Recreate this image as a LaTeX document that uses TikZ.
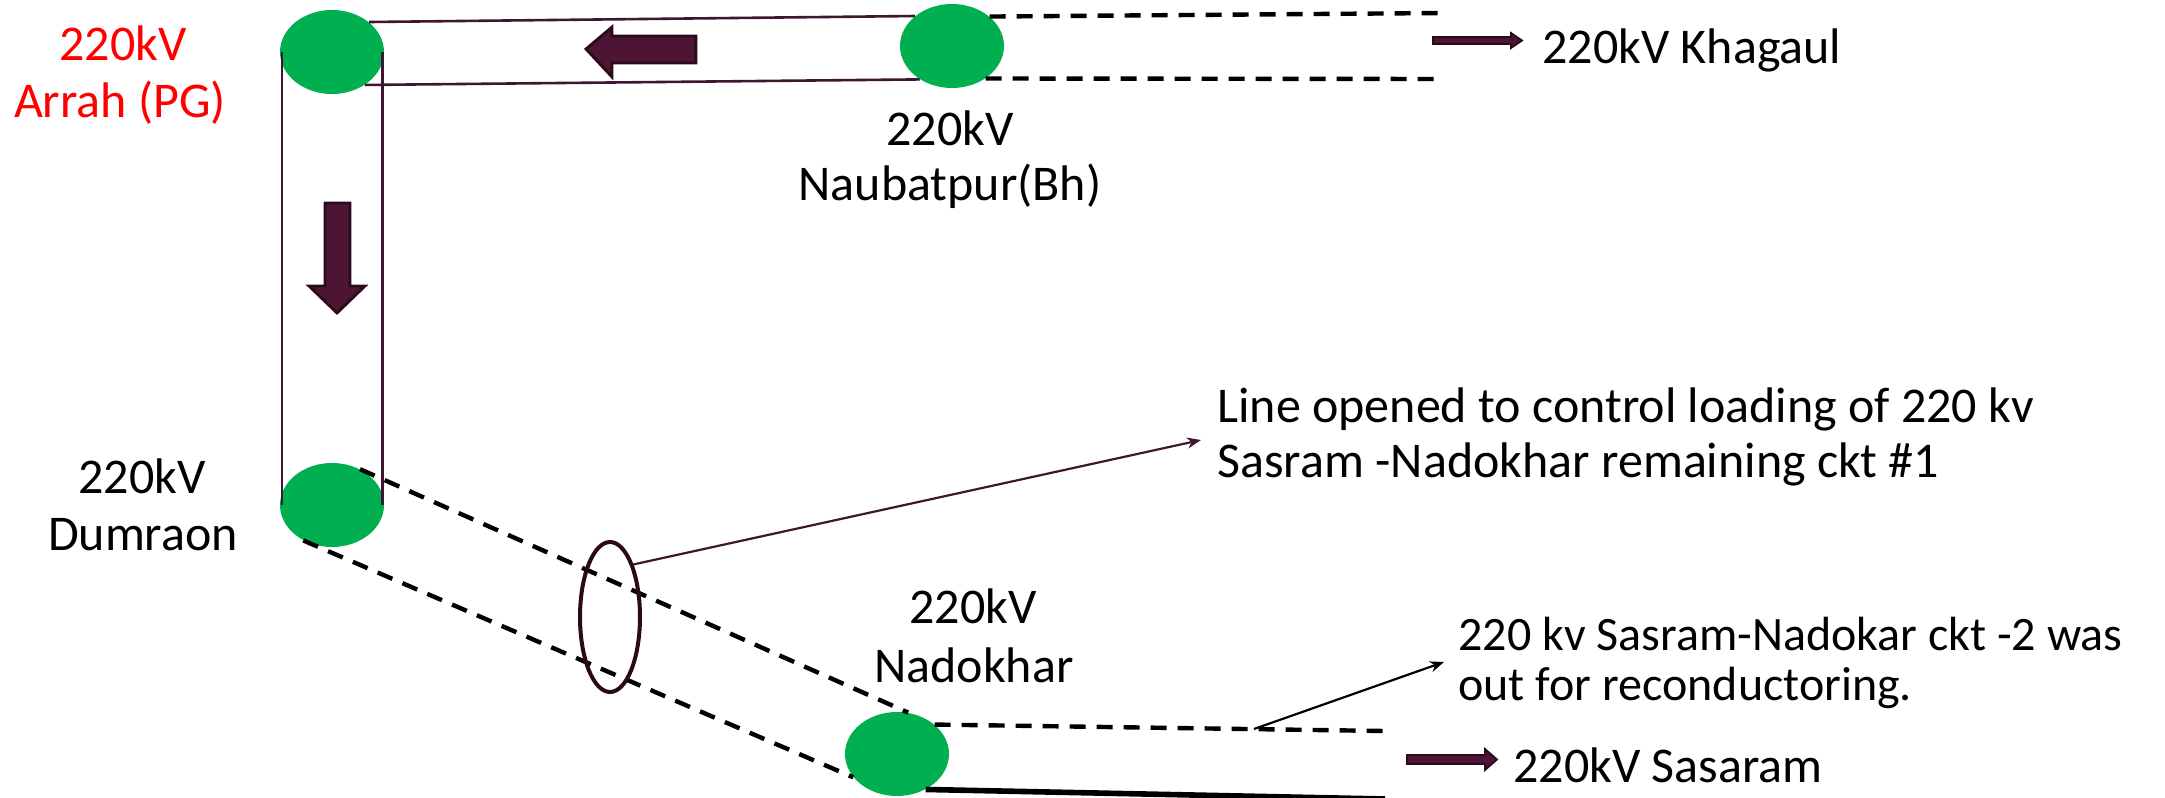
\documentclass[tikz,border=0pt]{standalone}
\usepackage{fontspec}
\setmainfont{Carlito}
\usetikzlibrary{shapes.geometric,arrows.meta,calc}

\definecolor{busgreen}{HTML}{00B050}
\definecolor{linepurple}{HTML}{3F1631}
\definecolor{arrowfill}{HTML}{4D1533}
\definecolor{arrowedge}{HTML}{2A0A1A}
\definecolor{labelred}{HTML}{FF0000}

\begin{document}
\begin{tikzpicture}[x=0.5pt,y=-0.5pt,
  bus/.style={ellipse, fill=busgreen, minimum width=52pt, minimum height=42pt, inner sep=0pt},
  openmark/.style={ellipse, draw=arrowedge, line width=2pt, minimum width=30pt, minimum height=75pt, inner sep=0pt},
  lbl/.style={font=\fontsize{25pt}{30pt}\selectfont, inner sep=0pt, anchor=base},
  lblw/.style={font=\fontsize{25pt}{30pt}\selectfont, inner sep=0pt, anchor=base west},
  notew/.style={font=\fontsize{24pt}{29pt}\selectfont, inner sep=0pt, anchor=base west},
  feeder/.style={draw=linepurple, line width=1.3pt},
  riser/.style={draw=linepurple, line width=1.1pt},
  offline/.style={draw=black, line width=2.2pt, dash pattern=on 8pt off 5.5pt},
  inservice/.style={draw=black, line width=2.8pt},
  callout/.style={line width=1.1pt, -{Stealth[length=7pt,width=5.5pt]}},
  blockarrow/.style={fill=arrowfill, draw=arrowedge, line width=1.4pt, line join=miter},
  smallarrow/.style={fill=arrowfill, draw=arrowedge, line width=0.9pt, line join=miter}
]
\useasboundingbox (0,0) rectangle (2165,798);

% substations
\node[bus] (arrah) at (332,52) {};
\node[bus] (nau)   at (952,46) {};
\node[bus] (dum)   at (332,505) {};
\node[bus] (nad)   at (897,754) {};

% free ends of the outgoing feeders
\coordinate (khagA) at (1443,13);
\coordinate (khagB) at (1444,79);
\coordinate (sasA)  at (1385,731);
\coordinate (sasB)  at (1385,799);

% Arrah - Naubatpur double circuit
\draw[feeder] (arrah.39) -- (nau.141);
\draw[feeder] (arrah.-45) -- (nau.226);

% Arrah - Dumraon double circuit
\draw[riser] ([xshift=1pt]arrah.west) -- ([xshift=1pt]dum.west);
\draw[riser] ([xshift=-1pt]arrah.east) -- ([xshift=-1pt]dum.east);

% Naubatpur - Khagaul
\draw[offline] (nau.38) -- (khagA);
\draw[offline] (nau.-44) -- (khagB);

% Dumraon - Nadokhar
\draw[offline] (dum.52) -- (nad.75);
\draw[offline] (dum.231) -- (nad.208);

% Nadokhar - Sasaram
\draw[offline] (nad.38) -- (sasA);
\draw[inservice] (nad.-51) -- (sasB);

% marker on the opened line
\node[openmark] (open) at (610,617) {};

% power flow arrows
\draw[blockarrow] (586,49) -- (612,27) -- (612,36) -- (696,36) -- (696,63)
  -- (612,63) -- (612,77) -- cycle;
\draw[blockarrow] (337,313) -- (309,286) -- (325,286) -- (325,203) -- (350,203)
  -- (350,286) -- (365,286) -- cycle;
\draw[smallarrow] (1433,37) -- (1511,37) -- (1511,33) -- (1522,40.5) -- (1511,48)
  -- (1511,44) -- (1433,44) -- cycle;
\draw[smallarrow] (1407,755) -- (1485,755) -- (1485,749) -- (1497,759.5) -- (1485,770)
  -- (1485,764) -- (1407,764) -- cycle;

% station labels
\node[lbl, text=labelred] (arrahkv)   at (123,60)  {220kV};
\node[lbl, text=labelred] (arrahname) at (120,117) {Arrah (PG)};
\node[lbl] (naukv)   at (950,145) {220kV};
\node[lbl] (nauname) at (950,200) {Naubatpur(Bh)};
\node[lbl] (dumkv)   at (142,493) {220kV};
\node[lbl] (dumname) at (143,550) {Dumraon};
\node[lbl] (nadkv)   at (973,623) {220kV};
\node[lbl] (nadname) at (974,682) {Nadokhar};
\node[lblw] (khag) at (1542,63)  {220kV Khagaul};
\node[lblw] (sas)  at (1513,782) {220kV Sasaram};

% notes
\node[lblw] (noteAa) at (1217,422) {Line opened to control loading of 220 kv};
\node[lblw] (noteAb) at (1217,477) {Sasram -Nadokhar remaining ckt \#1};
\node[notew] (noteBa) at (1458,650) {220 kv Sasram-Nadokar ckt -2 was};
\node[notew] (noteBb) at (1458,700) {out for reconductoring.};

\coordinate (noteAtip)  at (1201,440);
\coordinate (noteBfrom) at (1254,729);
\coordinate (noteBtip)  at (1444,662);
\draw[callout, draw=linepurple, fill=linepurple] (open.66) -- (noteAtip);
\draw[callout, draw=black, fill=black] (noteBfrom) -- (noteBtip);
\end{tikzpicture}
\end{document}
